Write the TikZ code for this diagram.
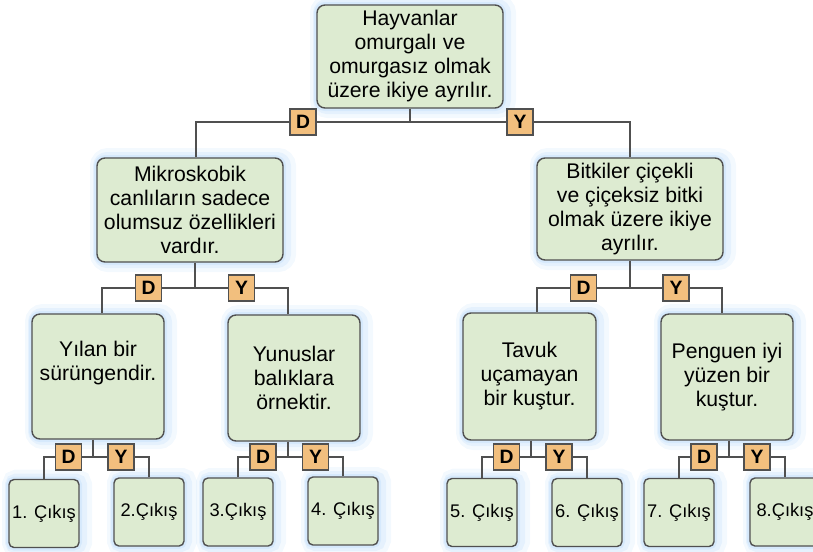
\documentclass[tikz,border=0pt]{standalone}
\usepackage{fontspec}
\setmainfont{Liberation Sans}
\usetikzlibrary{positioning,calc}

\newcommand\pxu{0.75pt}
\definecolor{yesil}{RGB}{221,235,209}
\definecolor{turuncu}{RGB}{242,191,126}
\definecolor{kenar}{RGB}{80,80,80}
\definecolor{hale}{RGB}{196,224,250}

\begin{document}
\begin{tikzpicture}[x=0.75pt,y=-0.75pt,
                    soru node/.style={draw=kenar,fill=yesil,line width=1.4*\pxu,
                      rounded corners=8*\pxu,inner sep=0pt,align=center,
                      font=\fontsize{15.9}{18}\selectfont,
                      preaction={draw=hale,opacity=.2,line width=20*\pxu,
                        transform canvas={xshift=3*\pxu}},
                      preaction={draw=hale,opacity=.3,line width=12*\pxu,
                        transform canvas={xshift=2*\pxu}},
                      preaction={draw=hale,opacity=.45,line width=6*\pxu}},
                    cikis node/.style={soru node,rounded corners=5*\pxu,
                      minimum width=70*\pxu,minimum height=68*\pxu,
                      font=\fontsize{13.7}{16}\selectfont},
                    dy node/.style={draw=kenar,fill=turuncu,line width=1.3*\pxu,
                      minimum size=26*\pxu,inner sep=0pt,
                      font=\bfseries\fontsize{14.5}{16}\selectfont},
                    hat/.style={draw=kenar,line width=1.2*\pxu}
                   ]
  \useasboundingbox (0,0) rectangle (813,551);
  \clip (0,0) rectangle (813,551);

  % kutular
  \node[soru node,minimum width=186*\pxu,minimum height=103*\pxu] (top) at (410,56.5)
    {Hayvanlar\\omurgalı ve\\omurgasız olmak\\üzere ikiye ayrılır.};
  \node[soru node,minimum width=186*\pxu,minimum height=104*\pxu] (ml) at (190,210)
    {Mikroskobik\\canlıların sadece\\olumsuz özellikleri\\vardır.};
  \node[soru node,minimum width=186*\pxu,minimum height=102*\pxu] (mr) at (630,209)
    {Bitkiler çiçekli\\ve çiçeksiz bitki\\olmak üzere ikiye\\ayrılır.};
  \node[soru node,minimum width=132*\pxu,minimum height=125*\pxu] (b1) at (98,376.5)
    {Yılan bir\\sürüngendir.\\\strut};
  \node[soru node,minimum width=132*\pxu,minimum height=126*\pxu] (b2) at (294,378)
    {Yunuslar\\balıklara\\örnektir.};
  \node[soru node,minimum width=133*\pxu,minimum height=127*\pxu] (b3) at (529.5,376.5)
    {Tavuk\\uçamayan\\bir kuştur.};
  \node[soru node,minimum width=132*\pxu,minimum height=126*\pxu] (b4) at (727,377)
    {Penguen iyi\\yüzen bir\\kuştur.};

  \node[cikis node] (c1) at (44,513.5) {1. Çıkış};
  \node[cikis node] (c2) at (149,512) {2.Çıkış};
  \node[cikis node] (c3) at (238,512) {3.Çıkış};
  \node[cikis node] (c4) at (343,511) {4. Çıkış};
  \node[cikis node] (c5) at (482,512.5) {5. Çıkış};
  \node[cikis node] (c6) at (587,512.5) {6. Çıkış};
  \node[cikis node] (c7) at (679,512.5) {7. Çıkış};
  \node[cikis node] (c8) at (785,512) {8.Çıkış};

  % dallar
  \coordinate (j0) at (410,122);
  \draw[hat] (top.south) -- (j0);
  \draw[hat] ([xshift=6*\pxu]ml.north) |- node[dy node,pos=.75] (d0) {D} (j0);
  \draw[hat] (mr.north) |- node[dy node,pos=.75] (y0) {Y} (j0);

  \coordinate (j1) at (195,288);
  \draw[hat] ([xshift=5*\pxu]ml.south) -- (j1);
  \draw[hat] ([xshift=4*\pxu]b1.north) |- node[dy node,pos=.75] (d1) {D} (j1);
  \draw[hat] ([xshift=-6*\pxu]b2.north) |- node[dy node,pos=.75] (y1) {Y} (j1);

  \coordinate (j2) at (630,288);
  \draw[hat] (mr.south) -- (j2);
  \draw[hat] ([xshift=7.5*\pxu]b3.north) |- node[dy node,pos=.75] (d2) {D} (j2);
  \draw[hat] ([xshift=-5*\pxu]b4.north) |- node[dy node,pos=.75] (y2) {Y} (j2);

  \coordinate (j3) at (93,457);
  \draw[hat] ([xshift=-5*\pxu]b1.south) -- (j3);
  \draw[hat] (c1.north) |- node[dy node,pos=.75] (d3) {D} (j3);
  \draw[hat] (c2.north) |- node[dy node,pos=.75] (y3) {Y} (j3);

  \coordinate (j4) at (288,457);
  \draw[hat] ([xshift=-6*\pxu]b2.south) -- (j4);
  \draw[hat] (c3.north) |- node[dy node,pos=.75] (d4) {D} (j4);
  \draw[hat] (c4.north) |- node[dy node,pos=.75] (y4) {Y} (j4);

  \coordinate (j5) at (531,457);
  \draw[hat] ([xshift=1.5*\pxu]b3.south) -- (j5);
  \draw[hat] (c5.north) |- node[dy node,pos=.75] (d5) {D} (j5);
  \draw[hat] (c6.north) |- node[dy node,pos=.75] (y5) {Y} (j5);

  \coordinate (j6) at (729,457);
  \draw[hat] ([xshift=2*\pxu]b4.south) -- (j6);
  \draw[hat] (c7.north) |- node[dy node,pos=.75] (d6) {D} (j6);
  \draw[hat] (c8.north) |- node[dy node,pos=.75] (y6) {Y} (j6);
\end{tikzpicture}
\end{document}
